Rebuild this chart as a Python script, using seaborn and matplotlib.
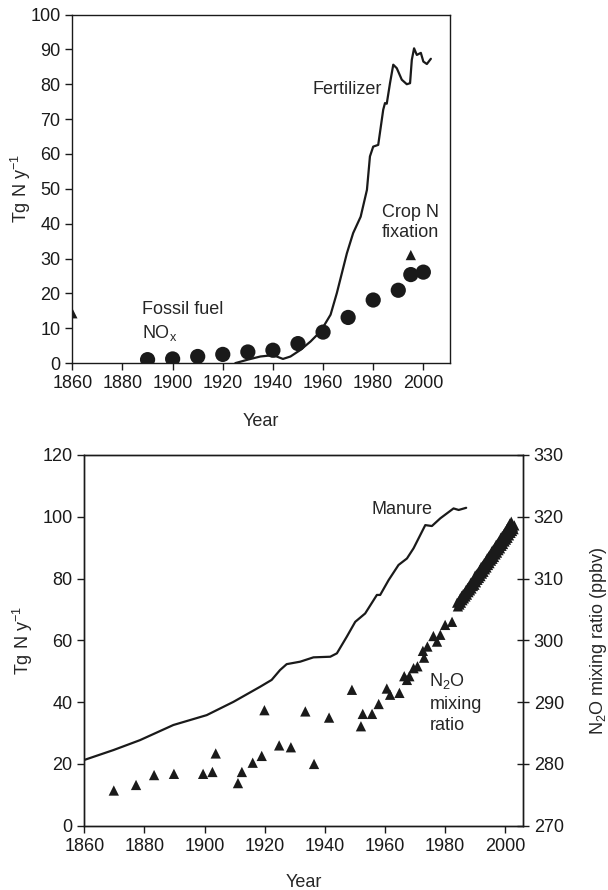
import matplotlib
matplotlib.use("Agg")
import matplotlib.pyplot as plt
import seaborn as sns
import pandas as pd

sns.set_theme(style="ticks")
plt.rcParams["font.family"] = ["Liberation Sans", "DejaVu Sans"]
plt.rcParams["mathtext.fontset"] = "custom"
plt.rcParams["mathtext.rm"] = "Liberation Sans"
plt.rcParams["mathtext.it"] = "Liberation Sans"
plt.rcParams["mathtext.default"] = "regular"

# ---- Upper panel: fertilizer, fossil fuel NOx, crop N fixation (Tg N / yr)
fert_year = [1925, 1930, 1935, 1939, 1941.5, 1944, 1947, 1951, 1955, 1959, 1963,
             1965.5, 1969.5, 1972, 1975, 1977.5, 1978.7, 1980, 1982, 1984, 1984.7,
             1985.4, 1986.7, 1988, 1989.4, 1991.4, 1993.4, 1994.7, 1995.4, 1996.3,
             1997.4, 1999, 2000, 2001.4, 2003]
fert_value = [0.0, 1.0, 1.9, 2.2, 1.9, 1.2, 1.9, 3.8, 6.2, 9.1, 13.9,
              20.1, 31.5, 37.3, 42.0, 49.7, 59.3, 62.1, 62.6, 72.7, 74.6,
              74.4, 80.3, 85.6, 84.6, 81.3, 80.0, 80.3, 87.0, 90.3,
              88.4, 89.0, 86.5, 85.8, 87.3]

nox_year = [1890, 1900, 1910, 1920, 1930, 1940, 1950, 1960, 1970, 1980, 1990, 1995, 2000]
nox_value = [1.0, 1.2, 1.9, 2.5, 3.2, 3.7, 5.6, 8.9, 13.1, 18.1, 20.9, 25.4, 26.1]

cropfix_year = [1860, 1995]
cropfix_value = [14.3, 31.0]

# ---- Lower panel: manure (Tg N / yr) and atmospheric N2O (ppbv)
manure_year = [1860, 1869.7, 1878.5, 1889.6, 1900.7, 1909.6, 1918.5, 1922.3, 1925.1,
               1927.3, 1931.8, 1936.2, 1941.8, 1944, 1947.3, 1950.1, 1953.4, 1957.3,
               1958.4, 1961.2, 1964.5, 1967.3, 1969.5, 1973.4, 1975.6, 1978.4,
               1982.8, 1984.5, 1987]
manure_value = [21.3, 24.5, 27.7, 32.6, 35.8, 40.1, 45.0, 47.2, 50.4,
                52.3, 53.1, 54.5, 54.7, 55.8, 61.2, 66.0, 68.7, 74.7,
                74.7, 79.5, 84.4, 86.5, 89.8, 97.3, 97.0, 99.5,
                102.7, 102.2, 102.9]

# ice-core / firn record
n2o_core_year = [1869.8, 1877.2, 1883.2, 1889.8, 1899.5, 1902.6, 1903.7, 1911.1, 1912.4,
                 1916.0, 1919.0, 1919.9, 1924.8, 1928.7, 1933.5, 1936.4, 1941.4, 1949.0,
                 1952.0, 1952.6, 1955.7, 1957.9, 1960.6, 1961.7, 1964.8, 1966.4, 1967.3,
                 1968.1, 1969.5, 1970.8, 1972.6, 1973.0, 1974.1, 1976.1, 1977.3, 1978.4,
                 1980.0, 1982.3]
n2o_core_ppbv = [275.7, 276.6, 278.2, 278.4, 278.4, 278.7, 281.7, 276.9, 278.7,
                 280.2, 281.3, 288.7, 283.0, 282.7, 288.5, 280.0, 287.5, 292.0,
                 286.1, 288.1, 288.1, 289.7, 292.2, 291.2, 291.5, 294.2, 293.6,
                 294.2, 295.5, 295.8, 298.3, 297.2, 299.0, 300.7, 299.8, 300.9,
                 302.5, 303.0]

# station record (dense)
n2o_air_year = [1984.0, 1984.25, 1984.5, 1984.75, 1985.0, 1985.25, 1985.5, 1985.75,
                1986.0, 1986.25, 1986.5, 1986.75, 1987.0, 1987.25, 1987.5, 1987.75,
                1988.0, 1988.25, 1988.5, 1988.75, 1989.0, 1989.25, 1989.5, 1989.75,
                1990.0, 1990.25, 1990.5, 1990.75, 1991.0, 1991.25, 1991.5, 1991.75,
                1992.0, 1992.25, 1992.5, 1992.75, 1993.0, 1993.25, 1993.5, 1993.75,
                1994.0, 1994.25, 1994.5, 1994.75, 1995.0, 1995.25, 1995.5, 1995.75,
                1996.0, 1996.25, 1996.5, 1996.75, 1997.0, 1997.25, 1997.5, 1997.75,
                1998.0, 1998.25, 1998.5, 1998.75, 1999.0, 1999.25, 1999.5, 1999.75,
                2000.0, 2000.25, 2000.5, 2000.75, 2001.0, 2001.25, 2001.5, 2001.75,
                2002.0, 2002.25, 2002.5, 2002.75, 2003.0]
n2o_air_ppbv = [306.1, 305.5, 306.3, 305.8, 306.8, 306.1, 307.2, 306.5,
                307.5, 306.8, 307.7, 307.1, 308.2, 307.4, 308.5, 307.8,
                308.8, 308.1, 309.3, 308.4, 309.5, 308.8, 309.8, 309.0,
                310.5, 309.4, 310.7, 309.8, 311.0, 310.1, 311.4, 310.4,
                311.9, 310.8, 312.1, 311.1, 312.5, 311.5, 312.8, 311.8,
                313.3, 312.2, 313.6, 312.5, 313.9, 312.9, 314.4, 313.2,
                314.7, 313.5, 315.0, 313.9, 315.5, 314.2, 315.7, 314.6,
                316.1, 314.9, 316.6, 315.3, 316.9, 315.6, 317.2, 316.0,
                317.6, 316.3, 318.0, 316.6, 318.4, 317.0, 318.9, 317.4,
                319.2, 317.7, 318.4, 318.0, 318.6]

fert = pd.DataFrame({"year": fert_year, "value": fert_value})
nox = pd.DataFrame({"year": nox_year, "value": nox_value})
cropfix = pd.DataFrame({"year": cropfix_year, "value": cropfix_value})
manure = pd.DataFrame({"year": manure_year, "value": manure_value})
n2o = pd.DataFrame({"year": n2o_core_year + n2o_air_year,
                    "ppbv": n2o_core_ppbv + n2o_air_ppbv})

FS = 13
ink = "#1a1a1a"

fig = plt.figure(figsize=(6.08, 8.90), dpi=100)
ax1 = fig.add_axes([0.119, 0.592, 0.621, 0.3917])
ax2 = fig.add_axes([0.1387, 0.0722, 0.722, 0.4166])

# Upper panel
sns.lineplot(data=fert, x="year", y="value", ax=ax1, color=ink, lw=1.6,
             sort=False, estimator=None)
sns.scatterplot(data=nox, x="year", y="value", ax=ax1, color=ink, s=120,
                marker="o", edgecolor="none", zorder=3)
sns.scatterplot(data=cropfix, x="year", y="value", ax=ax1, color=ink, s=55,
                marker="^", edgecolor="none", zorder=3)
ax1.set_xlim(1860, 2010.6)
ax1.set_ylim(0, 100)
ax1.set_xticks(range(1860, 2001, 20))
ax1.set_yticks(range(0, 101, 10))
ax1.set_xlabel("Year", fontsize=FS, labelpad=15)
ax1.set_ylabel("Tg N y$^{-1}$", fontsize=FS)
ax1.yaxis.set_label_coords(-0.105, 0.5)
ax1.text(1983.5, 78.5, "Fertilizer", fontsize=FS, ha="right", va="center")
ax1.text(1995, 40.4, "Crop N\nfixation", fontsize=FS, ha="center", va="center",
         linespacing=1.25)
ax1.text(1887.7, 11.8, "Fossil fuel\nNO$_x$", fontsize=FS, ha="left", va="center",
         linespacing=1.35)

# Lower panel
sns.lineplot(data=manure, x="year", y="value", ax=ax2, color=ink, lw=1.6,
             sort=False, estimator=None)
ax2.set_xlim(1860, 2006)
ax2.set_ylim(0, 120)
ax2.set_xticks(range(1860, 2001, 20))
ax2.set_yticks(range(0, 121, 20))
ax2.set_xlabel("Year", fontsize=FS, labelpad=14)
ax2.set_ylabel("Tg N y$^{-1}$", fontsize=FS)
ax2.yaxis.set_label_coords(-0.112, 0.5)
ax2.text(1975.9, 102.4, "Manure", fontsize=FS, ha="right", va="center")
ax2.text(1974.8, 39.8, "N$_2$O\nmixing\nratio", fontsize=FS, ha="left", va="center",
         linespacing=1.35)

ax3 = ax2.twinx()
sns.scatterplot(data=n2o, x="year", y="ppbv", ax=ax3, color=ink, s=55,
                marker="^", edgecolor="none", zorder=3)
ax3.set_ylim(270, 330)
ax3.set_yticks(range(270, 331, 10))
ax3.set_ylabel("N$_2$O mixing ratio (ppbv)", fontsize=FS, labelpad=17)

for ax in (ax1, ax2, ax3):
    for sp in ax.spines.values():
        sp.set_visible(True)
        sp.set_color(ink)
        sp.set_linewidth(1.0)
    ax.tick_params(labelsize=FS, colors=ink, length=5, width=1.0, direction="out")
ax3.tick_params(axis="y", direction="inout", length=8)

fig.savefig("out.png", dpi=100)
